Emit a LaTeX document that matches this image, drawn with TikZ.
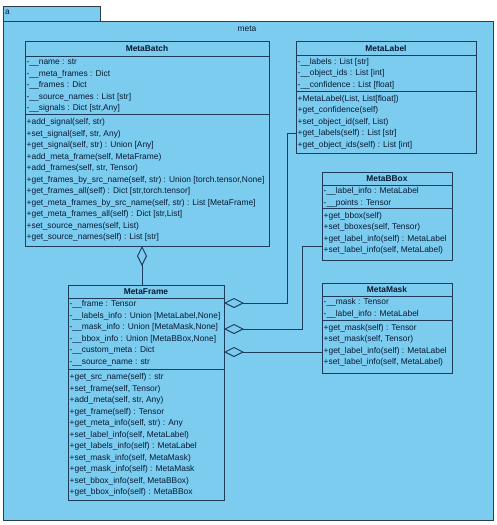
\documentclass[tikz,border=0pt]{standalone}
\usepackage{fontspec}
\setmainfont{Liberation Sans}
\usetikzlibrary{arrows.meta}
\definecolor{bg}{RGB}{124,204,240}
\definecolor{lc}{RGB}{28,60,90}
\definecolor{fc}{RGB}{45,60,75}
\definecolor{tc}{RGB}{8,26,50}
\begin{document}
\begin{tikzpicture}[x=1pt,y=-1pt,
  cls/.style={draw=lc, fill=bg, line width=1pt, inner sep=0pt, outer sep=0pt, anchor=north west},
  ttl/.style={font=\fontsize{8.4}{10}\selectfont\bfseries, text=tc, inner sep=0pt},
  txt/.style={anchor=north west, inner sep=0pt, align=left, font=\fontsize{8.4}{11.5}\selectfont, text=tc},
  sepl/.style={draw=lc, line width=1pt},
  agg/.style={draw=lc, line width=1pt, -{Diamond[open, length=20pt, width=10pt, line width=1pt]}}]
\useasboundingbox (0,0) rectangle (496,525);
\fill[white] (0,0) rectangle (496,525);
% package
\node[cls, draw=fc, minimum width=97pt, minimum height=15pt] (tab) at (3,6) {};
\node[cls, draw=fc, minimum width=490pt, minimum height=499pt] (pkg) at (3,21) {};
\node[txt, anchor=west, font=\fontsize{8.4}{10}\selectfont] (tabl) at (5,12.5) {a};
\node[txt, anchor=center, font=\fontsize{8.4}{10}\selectfont] (pkgl) at (247,29) {meta};

% MetaBatch
\node[cls, minimum width=244pt, minimum height=205pt] (MB) at (25,41) {};
\node[ttl] (MBt) at (147,48.5) {MetaBatch};
\draw[sepl] (25,56) -- (269,56);
\draw[sepl] (25,114) -- (269,114);
\node[txt] (MBa) at (26.5,56.5) {\strut-\_\_name : str\\
\strut-\_\_meta\_frames : Dict\\
\strut-\_\_frames : Dict\\
\strut-\_\_source\_names : List [str]\\
\strut-\_\_signals : Dict [str,Any]};
\node[txt] (MBm) at (26.5,116.5) {\strut+add\_signal(self, str)\\
\strut+set\_signal(self, str, Any)\\
\strut+get\_signal(self, str) : Union [Any]\\
\strut+add\_meta\_frame(self, MetaFrame)\\
\strut+add\_frames(self, str, Tensor)\\
\strut+get\_frames\_by\_src\_name(self, str) : Union [torch.tensor,None]\\
\strut+get\_frames\_all(self) : Dict [str,torch.tensor]\\
\strut+get\_meta\_frames\_by\_src\_name(self, str) : List [MetaFrame]\\
\strut+get\_meta\_frames\_all(self) : Dict [str,List]\\
\strut+set\_source\_names(self, List)\\
\strut+get\_source\_names(self) : List [str]};

% MetaLabel
\node[cls, minimum width=180pt, minimum height=112pt] (ML) at (296,41) {};
\node[ttl] (MLt) at (386,48.5) {MetaLabel};
\draw[sepl] (296,55) -- (476,55);
\draw[sepl] (296,91) -- (476,91);
\node[txt] (MLa) at (297.5,56) {\strut-\_\_labels : List [str]\\
\strut-\_\_object\_ids : List [int]\\
\strut-\_\_confidence : List [float]};
\node[txt] (MLm) at (297.5,93) {\strut+MetaLabel(List, List[float])\\
\strut+get\_confidence(self)\\
\strut+set\_object\_id(self, List)\\
\strut+get\_labels(self) : List [str]\\
\strut+get\_object\_ids(self) : List [int]};

% MetaBBox
\node[cls, minimum width=130pt, minimum height=88pt] (BB) at (322,172) {};
\node[ttl] (BBt) at (387,178.5) {MetaBBox};
\draw[sepl] (322,185) -- (452,185);
\draw[sepl] (322,208) -- (452,208);
\node[txt] (BBa) at (323.5,185.5) {\strut-\_\_label\_info : MetaLabel\\
\strut-\_\_points : Tensor};
\node[txt] (BBm) at (323.5,210) {\strut+get\_bbox(self)\\
\strut+set\_bboxes(self, Tensor)\\
\strut+get\_label\_info(self) : MetaLabel\\
\strut+set\_label\_info(self, MetaLabel)};

% MetaMask
\node[cls, minimum width=130pt, minimum height=90pt] (MM) at (322,283) {};
\node[ttl] (MMt) at (387,289.5) {MetaMask};
\draw[sepl] (322,296) -- (452,296);
\draw[sepl] (322,320) -- (452,320);
\node[txt] (MMa) at (323.5,296.5) {\strut-\_\_mask : Tensor\\
\strut-\_\_label\_info : MetaLabel};
\node[txt] (MMm) at (323.5,322) {\strut+get\_mask(self) : Tensor\\
\strut+set\_mask(self, Tensor)\\
\strut+get\_label\_info(self) : MetaLabel\\
\strut+set\_label\_info(self, MetaLabel)};

% MetaFrame
\node[cls, minimum width=156pt, minimum height=215pt] (MF) at (68,285) {};
\node[ttl] (MFt) at (146,291.5) {MetaFrame};
\draw[sepl] (68,298) -- (224,298);
\draw[sepl] (68,369) -- (224,369);
\node[txt] (MFa) at (69.5,298.5) {\strut-\_\_frame : Tensor\\
\strut-\_\_labels\_info : Union [MetaLabel,None]\\
\strut-\_\_mask\_info : Union [MetaMask,None]\\
\strut-\_\_bbox\_info : Union [MetaBBox,None]\\
\strut-\_\_custom\_meta : Dict\\
\strut-\_\_source\_name : str};
\node[txt] (MFm) at (69.5,371.5) {\strut+get\_src\_name(self) : str\\
\strut+set\_frame(self, Tensor)\\
\strut+add\_meta(self, str, Any)\\
\strut+get\_frame(self) : Tensor\\
\strut+get\_meta\_info(self, str) : Any\\
\strut+set\_label\_info(self, MetaLabel)\\
\strut+get\_labels\_info(self) : MetaLabel\\
\strut+set\_mask\_info(self, MetaMask)\\
\strut+get\_mask\_info(self) : MetaMask\\
\strut+set\_bbox\_info(self, MetaBBox)\\
\strut+get\_bbox\_info(self) : MetaBBox};

% connectors
\coordinate (k1) at (287,0);
\coordinate (k2) at (302,0);
\coordinate (xd) at (142,0);
\coordinate (ylab) at (0,133);
\coordinate (ybb) at (0,246);
\coordinate (ymm) at (0,352);
\coordinate (yd1) at (0,303);
\coordinate (yd2) at (0,329);
\draw[agg] (ML.west |- ylab) -| (k1 |- yd1) -- (MF.east |- yd1);
\draw[agg] (BB.west |- ybb) -| (k2 |- yd2) -- (MF.east |- yd2);
\draw[agg] (MM.west |- ymm) -- (MF.east |- ymm);
\draw[agg] (MF.north -| xd) -- (MB.south -| xd);
\end{tikzpicture}
\end{document}
